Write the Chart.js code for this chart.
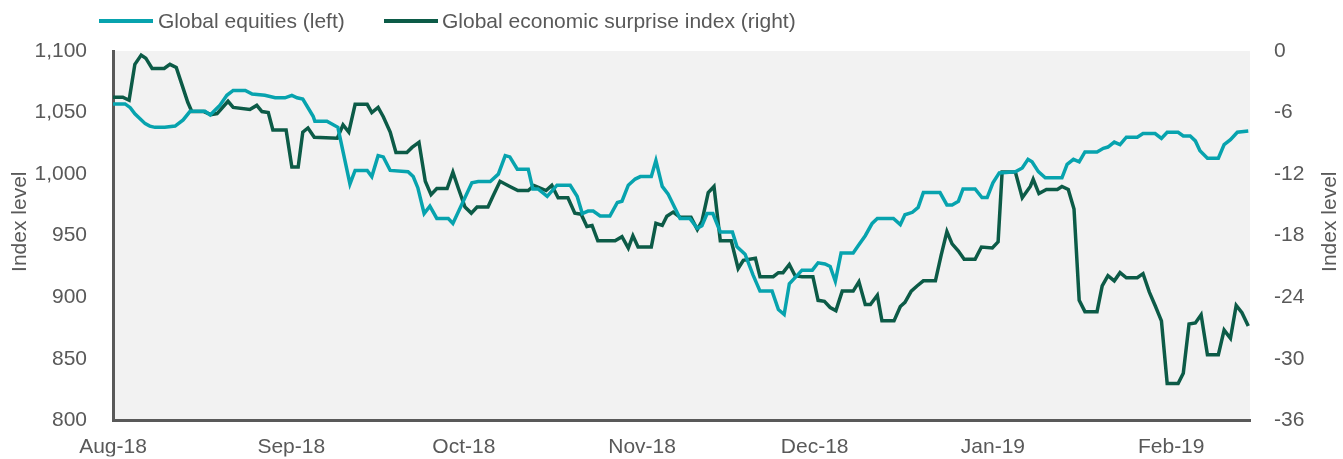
<!DOCTYPE html>
<html>
<head>
<meta charset="utf-8">
<script src="https://cdn.jsdelivr.net/npm/chart.js@4.4.1/dist/chart.umd.min.js"></script>
<style>
  html, body { margin: 0; padding: 0; background: #ffffff; overflow: hidden; }
  #wrap { position: absolute; left: 0; top: 0; width: 1343px; height: 459px; }
  #legend { position: absolute; left: 0; top: 0; width: 1343px; height: 42px; font-family: "Liberation Sans", Arial, sans-serif; font-size: 21px; color: #595959; z-index: 2; }
  .sw { position: absolute; top: 19px; width: 54px; height: 4px; }
  .lt { position: absolute; top: 8px; line-height: 26px; white-space: nowrap; }
</style>
</head>
<body>
<div id="wrap">
  <div id="legend">
    <div class="sw" style="left:99px;background:#07A3AE"></div>
    <div class="lt" style="left:158px">Global equities (left)</div>
    <div class="sw" style="left:384px;background:#0C5B47"></div>
    <div class="lt" style="left:442px">Global economic surprise index (right)</div>
  </div>
  <canvas id="c" width="1343" height="459"></canvas>
</div>
<script>
// x values: days since 1 Aug 2018
const monthDays   = [0, 31, 61, 92, 122, 153, 184];
const monthLabels = ["Aug-18", "Sep-18", "Oct-18", "Nov-18", "Dec-18", "Jan-19", "Feb-19"];

const equityDay = [0.0,2.1,3.0,3.8,4.7,5.6,6.4,7.3,9.0,10.8,12.2,13.4,16.0,16.9,18.6,19.8,20.9,23.0,24.2,26.4,28.2,29.9,31.1,32.0,33.0,34.8,35.1,37.2,39.1,41.2,42.1,44.2,45.0,46.1,47.0,48.2,51.3,52.2,53.0,54.1,55.1,56.3,58.3,59.1,60.7,62.4,63.5,65.6,67.0,68.2,69.0,70.3,72.2,73.0,73.9,75.5,77.2,79.5,80.7,81.6,82.6,83.5,84.7,86.4,87.7,88.5,89.6,90.8,91.7,93.6,94.4,95.5,96.5,98.6,100.3,101.6,102.4,103.3,104.3,105.6,107.7,108.5,109.9,111.3,112.5,114.6,115.7,116.7,117.6,119.0,119.8,121.6,122.6,123.8,124.7,125.6,126.6,128.7,129.6,130.8,132.0,132.9,135.7,136.9,137.7,139.0,140.0,140.9,143.8,145.0,145.9,147.0,147.8,149.9,151.1,152.0,153.0,154.1,156.9,158.1,159.1,159.8,160.9,162.1,165.0,165.9,167.0,168.0,169.0,171.1,172.2,173.0,174.1,175.1,176.2,178.1,179.1,181.2,182.3,183.3,185.2,186.1,187.3,188.2,189.0,190.3,192.2,193.2,194.3,195.5,197.4];
const equityLevel = [1057,1057,1054,1049,1045,1041,1039,1038,1038,1039,1044,1051,1051,1048,1056,1064,1068,1068,1065,1064,1062,1062,1064,1062,1061,1047,1043,1043,1038,992,1003,1003,998,1015,1014,1003,1002,998,989,968,974,964,964,960,976,993,994,994,1000,1015,1014,1004,1004,988,988,982,991,991,982,968,970,970,966,966,977,978,991,996,998,998,1011,990,984,964,964,956,958,968,968,953,953,941,935,918,905,905,890,886,911,918,922,922,928,927,925,913,936,936,942,950,960,964,964,959,967,969,973,985,985,975,975,978,988,988,981,981,993,1001,1002,1005,1012,1010,1002,997,997,1008,1012,1010,1018,1018,1021,1022,1026,1024,1030,1030,1033,1033,1029,1034,1034,1031,1031,1027,1019,1013,1013,1024,1028,1034,1035];

const surpriseDay = [0.0,1.7,2.8,3.8,4.9,5.7,6.8,8.9,9.9,11.0,12.0,13.0,13.7,15.8,17.0,18.1,20.0,20.9,23.8,25.0,25.9,27.0,27.8,30.1,31.1,32.2,33.0,33.9,35.0,39.0,40.0,41.0,42.1,44.2,45.0,46.1,47.0,48.2,49.2,51.1,52.0,53.2,54.3,55.3,56.3,58.1,59.1,60.0,61.2,62.3,63.3,65.2,66.1,67.3,69.0,70.4,72.2,73.2,75.3,76.3,77.4,79.1,80.3,81.4,82.4,83.3,84.3,87.3,88.5,89.6,90.4,91.3,93.6,94.4,95.5,96.3,97.4,98.6,100.5,101.6,102.4,103.5,104.5,105.6,107.5,108.7,109.6,111.7,112.5,114.8,115.7,116.5,117.6,118.6,119.8,121.7,122.6,123.7,124.7,125.7,126.8,128.7,129.7,130.8,131.7,132.9,133.7,135.8,136.9,137.7,138.8,139.8,140.9,143.0,144.0,145.0,145.9,147.0,148.0,149.9,151.0,152.9,153.9,154.6,156.9,158.1,159.5,160.0,161.0,162.3,164.2,165.0,166.1,167.1,168.0,169.0,171.1,172.0,173.0,174.1,175.1,176.2,178.1,179.1,180.2,181.2,182.3,183.3,185.2,186.1,187.1,188.2,189.2,190.3,192.2,193.2,194.3,195.3,196.3,197.4];
const surpriseLevel = [-4.5,-4.5,-4.8,-1.3,-0.4,-0.7,-1.7,-1.7,-1.3,-1.6,-3.3,-5.0,-5.9,-5.9,-6.2,-6.1,-4.9,-5.5,-5.7,-5.3,-5.9,-6.0,-7.7,-7.7,-11.3,-11.3,-7.9,-7.5,-8.4,-8.5,-7.2,-7.9,-5.2,-5.2,-6.0,-5.5,-6.4,-7.9,-9.9,-9.9,-9.4,-8.9,-12.7,-14.0,-13.4,-13.4,-11.8,-13.3,-15.2,-15.8,-15.2,-15.2,-14.1,-12.7,-13.2,-13.6,-13.6,-13.1,-13.6,-13.1,-14.3,-14.3,-15.8,-15.9,-17.1,-17.0,-18.5,-18.5,-18.1,-19.2,-18.0,-19.1,-19.1,-16.8,-17.0,-16.1,-15.7,-16.2,-16.2,-17.4,-16.6,-13.8,-13.2,-18.5,-18.5,-21.2,-20.4,-20.2,-22.0,-22.0,-21.6,-21.6,-20.8,-21.9,-22.0,-22.0,-24.3,-24.4,-25.0,-25.3,-23.4,-23.4,-22.5,-24.7,-24.7,-23.8,-26.3,-26.3,-24.9,-24.5,-23.4,-22.9,-22.4,-22.4,-19.9,-17.6,-18.8,-19.5,-20.3,-20.3,-19.1,-19.2,-18.6,-11.8,-11.8,-14.3,-13.2,-12.5,-13.9,-13.5,-13.5,-13.2,-13.5,-15.4,-24.3,-25.4,-25.4,-22.9,-21.9,-22.4,-21.6,-22.1,-22.1,-21.7,-23.5,-24.8,-26.3,-32.4,-32.4,-31.4,-26.6,-26.5,-25.7,-29.6,-29.6,-27.2,-28.0,-24.8,-25.5,-26.8];

const leftTicks = { min: 800, max: 1100, step: 50 };
const rightTicks = { min: -36, max: 0, step: 6 };

const TEAL = '#07A3AE';
const DARK = '#0C5B47';
const GREY = '#595959';
const FONT = "'Liberation Sans', Arial, sans-serif";

const bgPlugin = {
  id: 'bg',
  beforeDraw(chart) {
    const a = chart.chartArea, ctx = chart.ctx;
    ctx.save();
    ctx.fillStyle = '#F2F2F2';
    ctx.fillRect(a.left, a.top, a.right - a.left, a.bottom - a.top);
    ctx.restore();
  }
};
const titlePlugin = {
  id: 'axisTitles',
  afterDraw(chart) {
    const ctx = chart.ctx;
    const cy = (chart.chartArea.top + chart.chartArea.bottom) / 2 - 14;
    ctx.save();
    ctx.fillStyle = GREY;
    ctx.font = "21px " + FONT;
    ctx.textAlign = 'center';
    ctx.textBaseline = 'middle';
    [20, 1330].forEach(function (x) {
      ctx.save();
      ctx.translate(x, cy);
      ctx.rotate(-Math.PI / 2);
      ctx.fillText('Index level', 0, 0);
      ctx.restore();
    });
    ctx.restore();
  }
};

new Chart(document.getElementById('c'), {
  type: 'line',
  data: {
    datasets: [
      {
        label: 'Global equities (left)',
        data: equityDay.map((d, i) => ({ x: d, y: equityLevel[i] })),
        borderColor: TEAL, backgroundColor: TEAL, borderWidth: 3.5,
        pointRadius: 0, tension: 0, yAxisID: 'y'
      },
      {
        label: 'Global economic surprise index (right)',
        data: surpriseDay.map((d, i) => ({ x: d, y: surpriseLevel[i] })),
        borderColor: DARK, backgroundColor: DARK, borderWidth: 3.5,
        pointRadius: 0, tension: 0, yAxisID: 'y1'
      }
    ]
  },
  options: {
    responsive: false,
    animation: false,
    layout: { padding: { top: 51, left: 0, right: 0, bottom: 0 } },
    plugins: { legend: { display: false }, tooltip: { enabled: false } },
    scales: {
      x: {
        type: 'linear', min: 0, max: 197.7,
        grid: { display: false, drawTicks: false },
        border: { display: true, color: GREY, width: 3 },
        afterBuildTicks(s) { s.ticks = monthDays.map(v => ({ value: v })); },
        afterFit(s) { s.height = 36; },
        ticks: {
          autoSkip: false, maxRotation: 0, padding: 14, color: GREY,
          font: { family: FONT, size: 21 },
          callback(v) { const i = monthDays.indexOf(v); return i >= 0 ? monthLabels[i] : ''; }
        }
      },
      y: {
        position: 'left', min: leftTicks.min, max: leftTicks.max,
        grid: { display: false, drawTicks: false },
        border: { display: true, color: GREY, width: 3 },
        afterFit(s) { s.width = 113; },
        ticks: {
          stepSize: leftTicks.step, padding: 26, color: GREY,
          font: { family: FONT, size: 21 },
          callback(v) { return v.toLocaleString('en-US'); }
        }
      },
      y1: {
        position: 'right', min: rightTicks.min, max: rightTicks.max,
        grid: { display: false, drawTicks: false },
        border: { display: false },
        afterFit(s) { s.width = 93; },
        ticks: {
          stepSize: rightTicks.step, padding: 24, color: GREY,
          font: { family: FONT, size: 21 }
        }
      }
    }
  },
  plugins: [bgPlugin, titlePlugin]
});
</script>
</body>
</html>
